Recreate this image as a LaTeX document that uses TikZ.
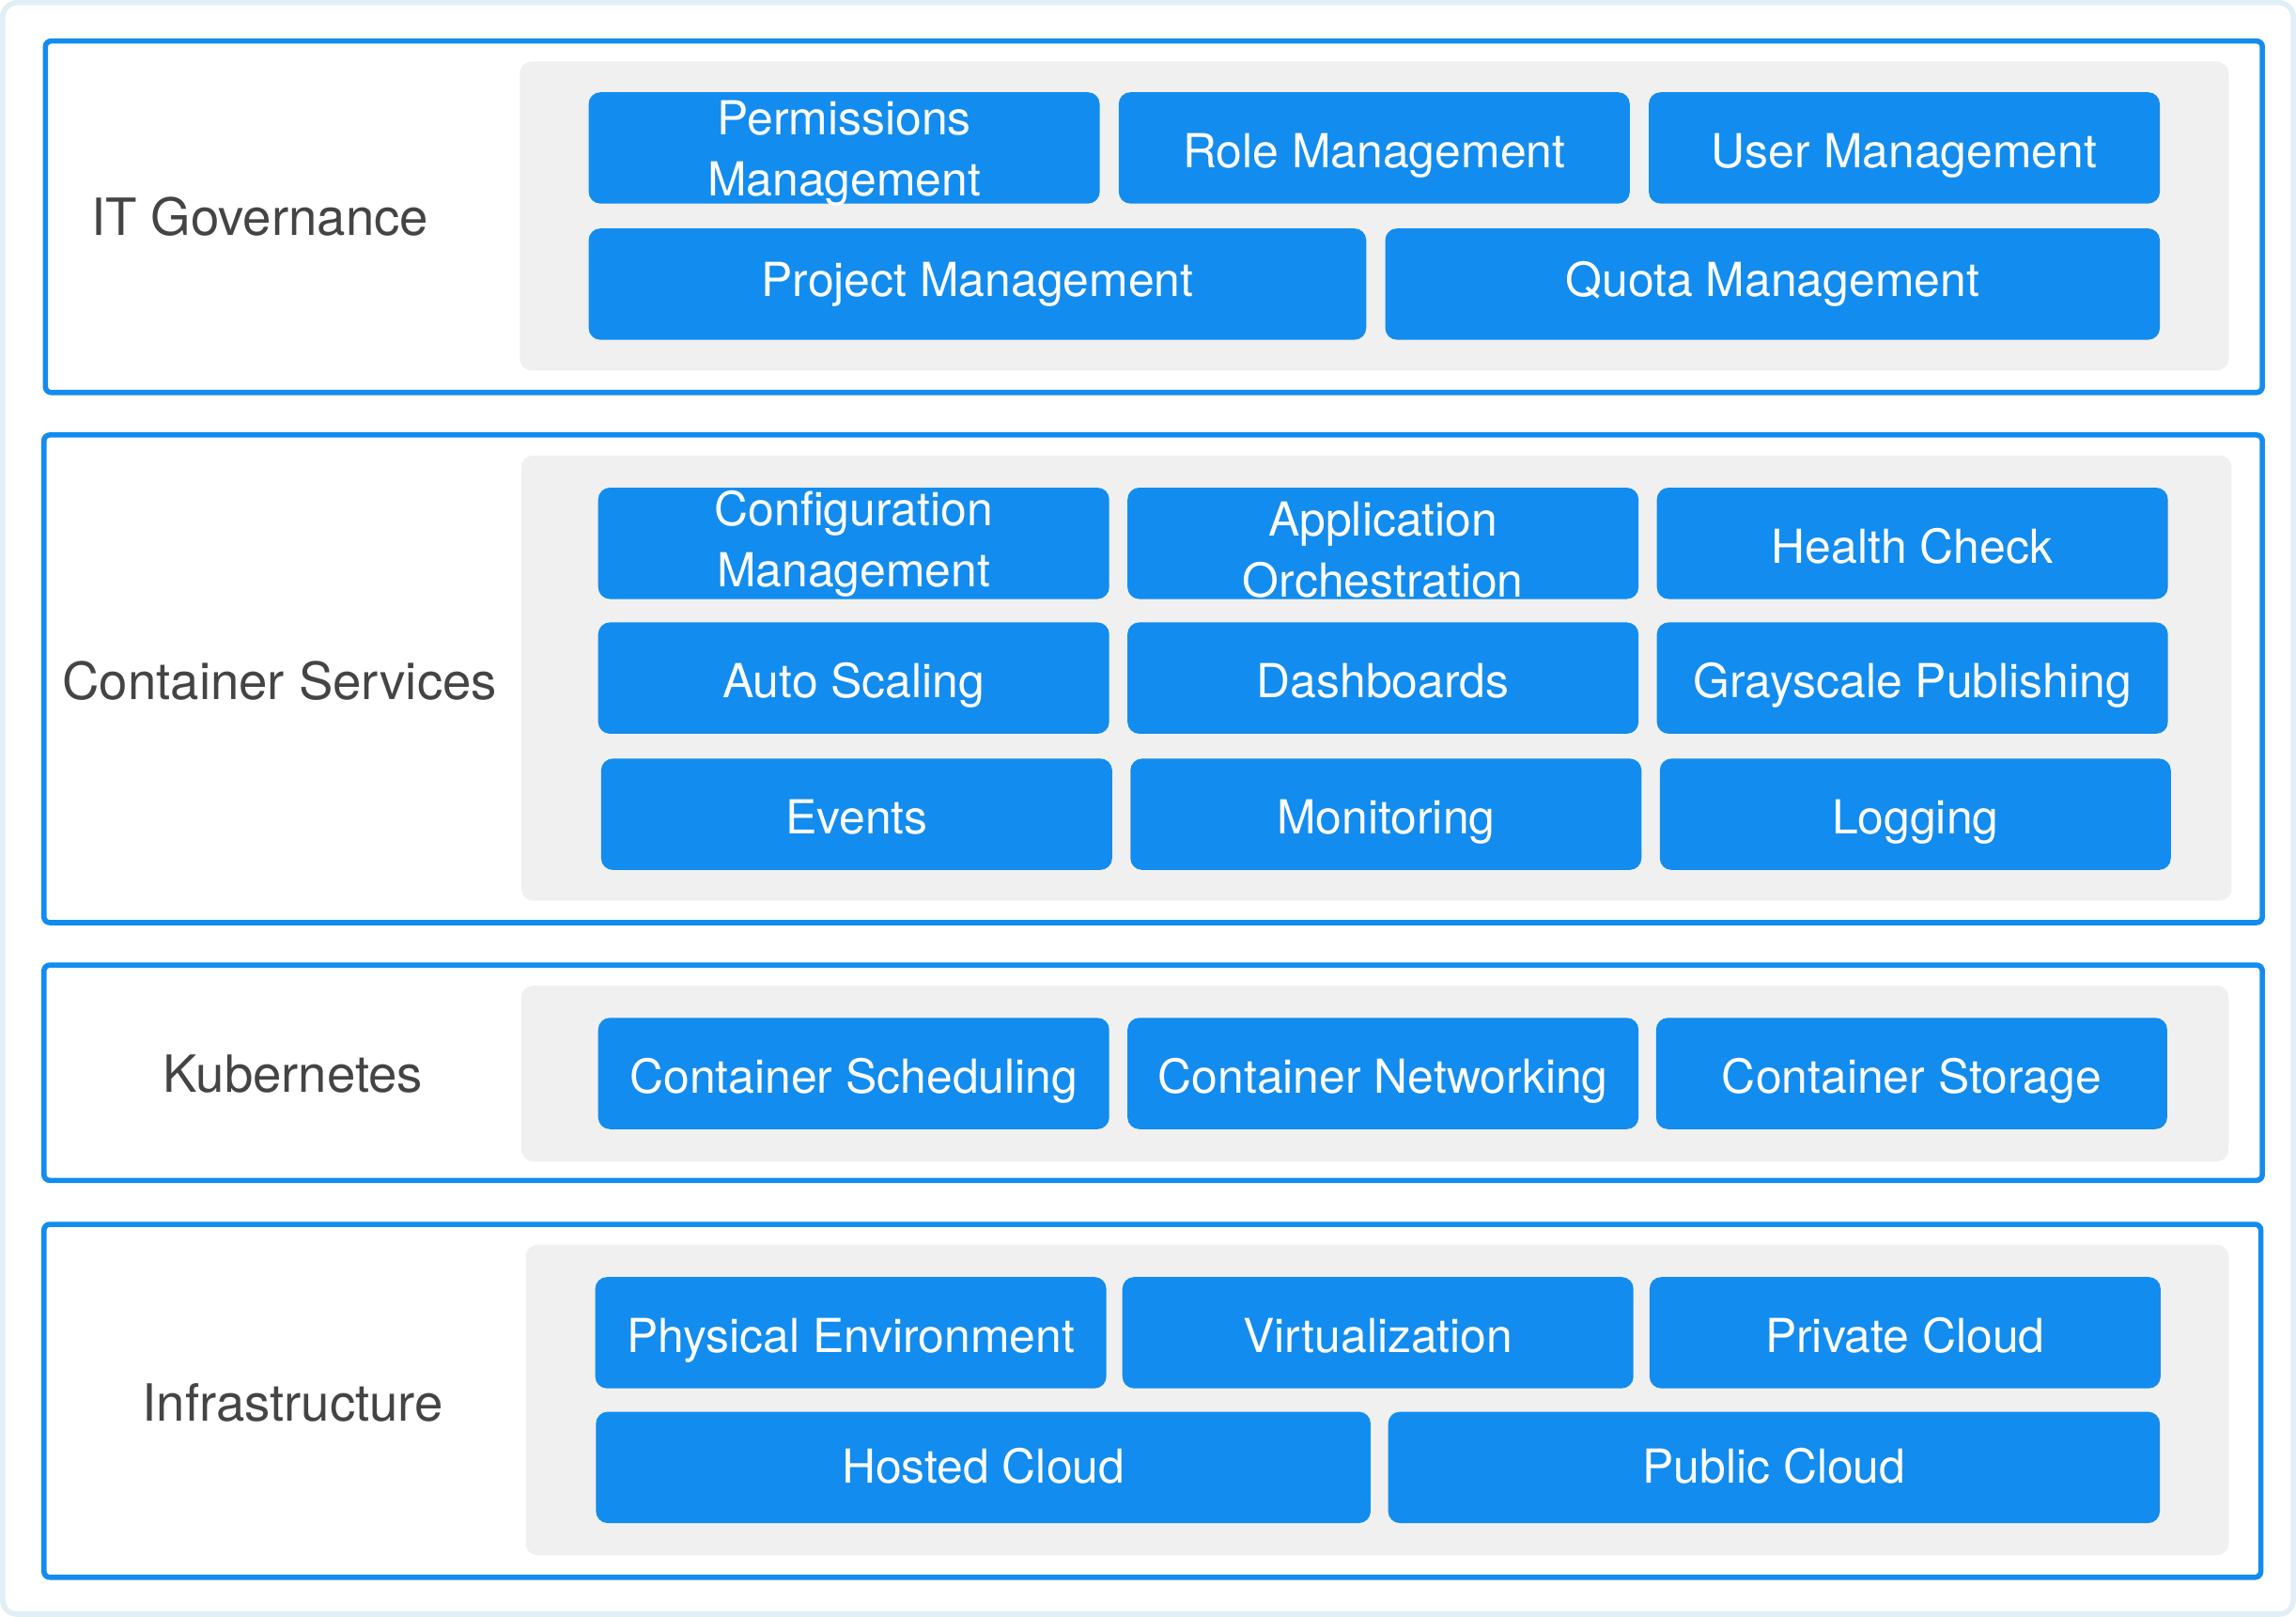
\documentclass[tikz,border=0pt]{standalone}
\usepackage{fontspec}
\setmainfont{TeX Gyre Heros}
\definecolor{modblue}{RGB}{18,140,238}
\definecolor{panelgray}{RGB}{240,240,240}
\definecolor{framegray}{RGB}{224,238,245}
\definecolor{labelgray}{RGB}{68,68,68}
\newcommand{\twolines}[3]{\raisebox{#1}{\begin{tabular}{@{}c@{}}#2\\#3\end{tabular}}}
\tikzset{
  modbase/.style={fill=modblue, rounded corners=4pt, text=white, align=center,
    minimum width=174.5pt, minimum height=38pt, inner sep=0pt,
    font=\fontsize{16}{21}\selectfont},
  mod/.style={modbase, text height=15pt, text depth=1.5pt},
  modtwo/.style={modbase, text height=19pt, text depth=19pt},
  modwide/.style={mod, minimum width=265pt},
  layer/.style={draw=modblue, line width=1.8pt, rounded corners=2pt},
  panel/.style={fill=panelgray, rounded corners=4pt},
  layername/.style={text=labelgray, font=\fontsize{17.5}{21}\selectfont, inner sep=0pt}
}
\begin{document}
\begin{tikzpicture}[x=0.5pt,y=0.5pt,yscale=-1,xscale=1]
	\useasboundingbox (0,0) rectangle (1568,1104);
	%Outer frame
	\draw [draw=framegray, line width=1.8pt, rounded corners=5pt] (1.8,1.8) rectangle (1566.2,1102.2);
	
	%Layer: IT Governance
	\draw [layer] (31,28) rectangle (1545,268);
	\fill [panel] (355,42) rectangle (1522,253);
	\node [layername, anchor=west] (itgov) at (62,148) {IT Governance};
	\node [modtwo] (perm) at (576.5,101) {\twolines{-6pt}{Permissions}{Management}};
	\node [mod] (role) at (938.5,101) {Role Management};
	\node [mod] (user) at (1300.5,101) {User Management};
	\node [modwide, minimum width=265.5pt, text depth=6.5pt] (proj) at (667.5,194) {Project Management};
	\node [modwide, minimum width=264.5pt, text depth=6.5pt] (quota) at (1210.5,194) {Quota Management};
	
	%Layer: Container Services
	\draw [layer] (30,297) rectangle (1545,630);
	\fill [panel] (356,311) rectangle (1524,615);
	\node [layername] (csvc) at (191,465) {Container Services};
	\node [modtwo] (conf) at (583,371) {\twolines{-4.5pt}{Configuration}{Management}};
	\node [modtwo] (app) at (944.5,371) {\twolines{-8pt}{Application}{Orchestration}};
	\node [mod] (health) at (1306,371) {Health Check};
	\node [mod] (auto) at (583,463) {Auto Scaling};
	\node [mod] (dash) at (944.5,463) {Dashboards};
	\node [mod] (gray) at (1306,463) {Grayscale Publishing};
	\node [mod] (events) at (585,556) {Events};
	\node [mod] (mon) at (946.5,556) {Monitoring};
	\node [mod] (log) at (1308,556) {Logging};
	
	%Layer: Kubernetes
	\draw [layer] (30,659) rectangle (1545,806);
	\fill [panel] (356,673) rectangle (1522,793);
	\node [layername] (kube) at (200,733) {Kubernetes};
	\node [mod] (sched) at (583,733) {Container Scheduling};
	\node [mod] (net) at (944.5,733) {Container Networking};
	\node [mod] (stor) at (1305.5,733) {Container Storage};
	
	%Layer: Infrastructure
	\draw [layer] (30,836) rectangle (1544,1077);
	\fill [panel] (359,850) rectangle (1522,1062);
	\node [layername] (infra) at (200,958) {Infrastructure};
	\node [mod] (phys) at (581,910) {Physical Environment};
	\node [mod] (virt) at (941,910) {Virtualization};
	\node [mod] (priv) at (1301,910) {Private Cloud};
	\node [modwide, minimum width=264.5pt, text depth=4pt] (hosted) at (671.5,1002) {Hosted Cloud};
	\node [modwide, minimum width=263.5pt, text depth=4.5pt] (public) at (1211.5,1002) {Public Cloud};
\end{tikzpicture}
\end{document}
